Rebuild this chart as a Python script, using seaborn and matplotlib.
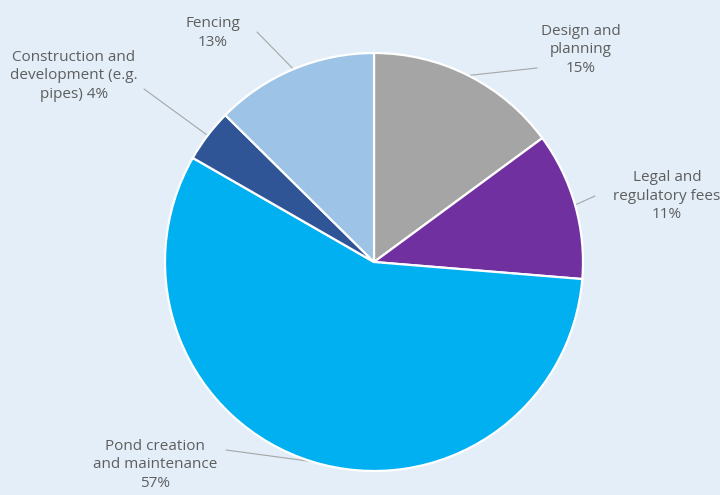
import matplotlib
matplotlib.use("Agg")
import matplotlib.pyplot as plt
import seaborn as sns
import numpy as np

categories = ["Design and\nplanning", "Legal and\nregulatory fees", "Pond creation\nand maintenance",
              "Construction and\ndevelopment (e.g.\npipes)", "Fencing"]
values = [14.9, 11.4, 57.0, 4.1, 12.6]
labels_pct = [15, 11, 57, 4, 13]
colors = ["#A5A5A5", "#7030A0", "#00B0F0", "#2F5597", "#9DC3E6"]
# label text centre (pixels) and leader start (pixels)
label_pos = [(581, 50), (667, 196), (155, 465), (74, 76), (213, 33)]
leader_start = [(537, 68), (595, 196), (226, 450), (144, 89), (257, 32)]

sns.set_theme(style="white")
plt.rcParams['font.family'] = ['Open Sans', 'DejaVu Sans']

BG = "#E3EEF8"
W, H = 720, 495
CX, CY, R = 374, 262, 209

fig = plt.figure(figsize=(7.2, 4.95), dpi=100, facecolor=BG)
ax = fig.add_axes([0, 0, 1, 1])
ax.set_facecolor(BG)

def px(x, y):
    return ((x - CX) / R, (CY - y) / R)

wedges, _ = ax.pie(values, colors=colors, startangle=90, counterclock=False, radius=1,
                   wedgeprops=dict(edgecolor="white", linewidth=1.6))

ax.set_xlim(px(0, 0)[0], px(W, 0)[0])
ax.set_ylim(px(0, H)[1], px(0, 0)[1])
ax.set_aspect('auto')
ax.axis('off')

for w, cat, v, lp, ls in zip(wedges, categories, labels_pct, label_pos, leader_start):
    mid = np.deg2rad((w.theta1 + w.theta2) / 2)
    ex, ey = np.cos(mid), np.sin(mid)
    sx, sy = px(*ls)
    ax.plot([sx, ex], [sy, ey], color="#A6A6A6", lw=0.8, zorder=0.5)
    if cat.endswith("(e.g.\npipes)"):
        txt = f"{cat} {v}%"
    else:
        txt = f"{cat}\n{v}%"
    tx, ty = px(*lp)
    ax.text(tx, ty, txt, ha="center", va="center", fontsize=11, color="#5E5E5E",
            linespacing=1.28)

fig.savefig("out.png", dpi=100, facecolor=BG)
